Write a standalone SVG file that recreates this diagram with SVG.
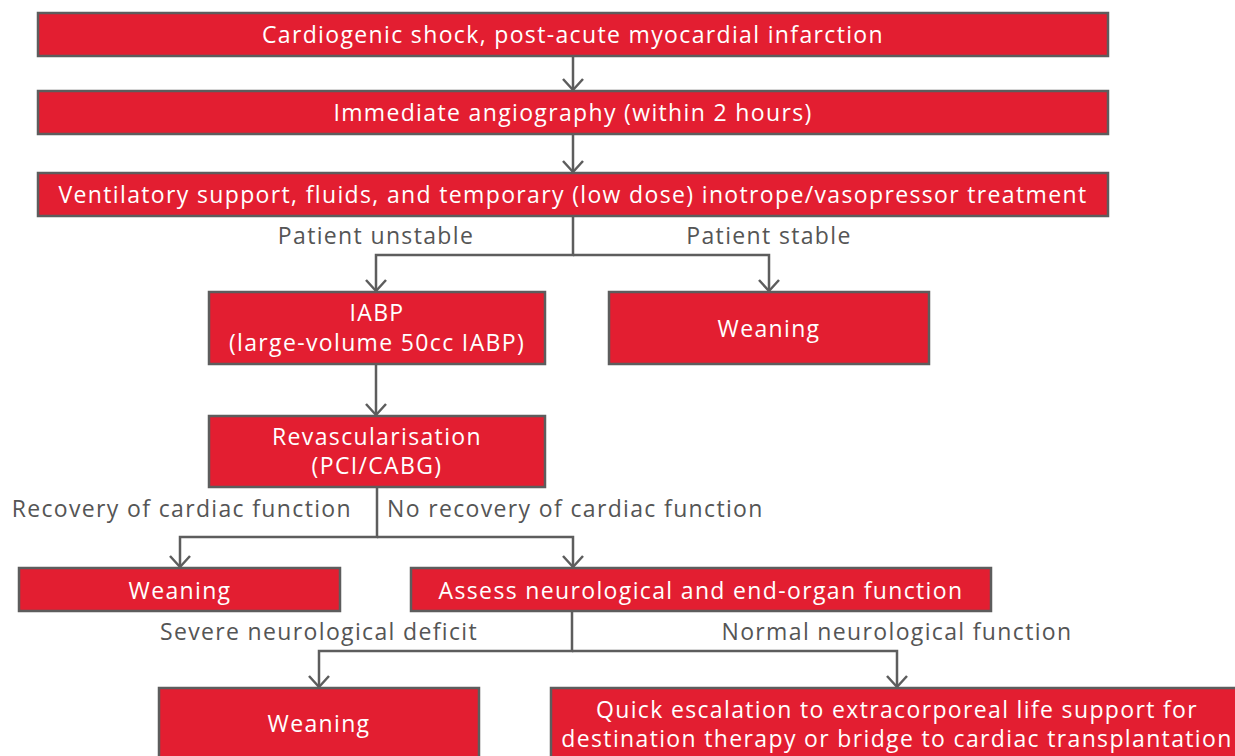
<svg xmlns="http://www.w3.org/2000/svg" width="1235" height="756" viewBox="0 0 1235 756">
<style>
.box{fill:#e31e31;stroke:#5d5d5d;stroke-width:2.5}
.t{font-family:"Open Sans","Liberation Sans",sans-serif;font-size:23px;letter-spacing:1.35px;fill:#ffffff;text-anchor:middle}
.l{font-family:"Open Sans","Liberation Sans",sans-serif;font-size:23px;letter-spacing:1.35px;fill:#555555}
.c{fill:none;stroke:#5d5d5d;stroke-width:2.5}
</style>
<defs>
<marker id="arr" markerUnits="userSpaceOnUse" markerWidth="16" markerHeight="24" refX="13" refY="12" orient="auto" viewBox="0 0 16 24">
<path d="M2,2 L13,12 L2,22" fill="none" stroke="#5d5d5d" stroke-width="2.5"/>
</marker>
</defs>
<rect width="1235" height="756" fill="#ffffff"/>
<g id="connectors">
<path class="c" d="M573,56 V90" marker-end="url(#arr)"/>
<path class="c" d="M573,134 V172" marker-end="url(#arr)"/>
<path class="c" d="M573,216 V255 H376 V291" marker-end="url(#arr)"/>
<path class="c" d="M573,255 H769 V291" marker-end="url(#arr)"/>
<path class="c" d="M376,364 V415" marker-end="url(#arr)"/>
<path class="c" d="M377,487 V537 H180 V567" marker-end="url(#arr)"/>
<path class="c" d="M377,537 H573 V567" marker-end="url(#arr)"/>
<path class="c" d="M572,611 V651 H319 V687" marker-end="url(#arr)"/>
<path class="c" d="M572,651 H897 V687" marker-end="url(#arr)"/>
<text class="l" x="376" y="244" text-anchor="middle">Patient unstable</text>
<text class="l" x="769" y="244" text-anchor="middle">Patient stable</text>
<text class="l" x="352" y="517" text-anchor="end">Recovery of cardiac function</text>
<text class="l" x="387" y="517">No recovery of cardiac function</text>
<text class="l" x="319" y="640" text-anchor="middle">Severe neurological deficit</text>
<text class="l" x="897" y="640" text-anchor="middle">Normal neurological function</text>
</g>
<g id="n1"><rect class="box" x="38" y="13" width="1070" height="43"/><text class="t" x="573" y="43">Cardiogenic shock, post-acute myocardial infarction</text></g>
<g id="n2"><rect class="box" x="38" y="91" width="1070" height="43"/><text class="t" x="573" y="121">Immediate angiography (within 2 hours)</text></g>
<g id="n3"><rect class="box" x="38" y="173" width="1070" height="43"/><text class="t" x="573" y="203">Ventilatory support, fluids, and temporary (low dose) inotrope/vasopressor treatment</text></g>
<g id="n4"><rect class="box" x="209" y="292" width="336" height="72"/><text class="t" x="377" y="321">IABP</text><text class="t" x="377" y="351">(large-volume 50cc IABP)</text></g>
<g id="n5"><rect class="box" x="609" y="292" width="320" height="72"/><text class="t" x="769" y="337">Weaning</text></g>
<g id="n6"><rect class="box" x="209" y="416" width="336" height="71"/><text class="t" x="377" y="445">Revascularisation</text><text class="t" x="377" y="474">(PCI/CABG)</text></g>
<g id="n7"><rect class="box" x="19" y="568" width="321" height="43"/><text class="t" x="180" y="599">Weaning</text></g>
<g id="n8"><rect class="box" x="411" y="568" width="580" height="43"/><text class="t" x="701" y="599">Assess neurological and end-organ function</text></g>
<g id="n9"><rect class="box" x="159" y="688" width="320" height="80"/><text class="t" x="319" y="732">Weaning</text></g>
<g id="n10"><rect class="box" x="551" y="688" width="700" height="80"/><text class="t" x="897" y="718">Quick escalation to extracorporeal life support for</text><text class="t" x="897" y="747">destination therapy or bridge to cardiac transplantation</text></g>
</svg>
